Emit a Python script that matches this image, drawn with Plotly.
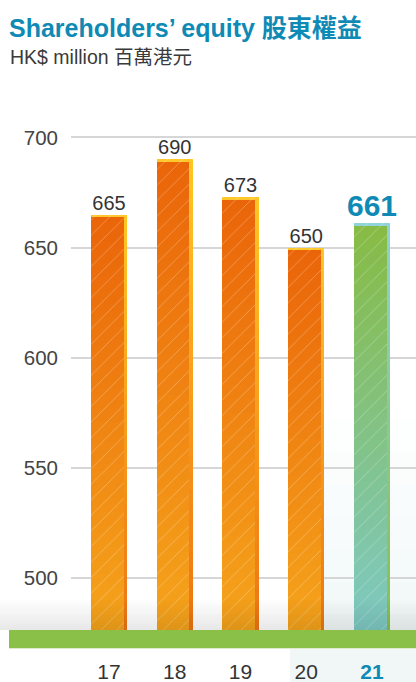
import plotly.graph_objects as go

# ---- data ----
years = ["17", "18", "19", "20", "21"]
equity = [665, 690, 673, 650, 661]
y_ticks = [500, 550, 600, 650, 700]
title_text = "Shareholders\u2019 equity 股東權益"
subtitle_text = "HK$ million 百萬港元"

# ---- style ----
W, H = 416, 682
ML, MR, MT, MB = 71, 0, 100, 52
BASE = 476.4
YMAX = 717.0
FONT = "Liberation Sans, Arial, Noto Sans CJK TC, sans-serif"
BLUE = "#0F8AB4"

main_top = ["#EA6409", "#EA6409", "#EA6409", "#EA6409", "#87BB43"]
main_bot = ["#F5A41B", "#F5A41B", "#F5A41B", "#F5A41B", "#7EC9C3"]
strip_top = ["#FFC623", "#FFC623", "#FFC623", "#FFC623", "#8DD3D4"]
strip_bot = ["#EE7414", "#EE7414", "#EE7414", "#EE7414", "#8ABF48"]
cap_col = ["#FFC72B", "#FFC72B", "#FFC72B", "#FFC72B", "#8FD4D8"]


def hex2rgb(h):
    h = h.lstrip("#")
    return [int(h[i:i + 2], 16) for i in (0, 2, 4)]


def lerp(c1, c2, t):
    a, b = hex2rgb(c1), hex2rgb(c2)
    r = [round(a[i] + (b[i] - a[i]) * t) for i in range(3)]
    return "rgb(%d,%d,%d)" % tuple(r)


fig = go.Figure()

BW = 0.548
OFF = -BW / 2
SW = 0.05

# main gradient bodies
N = 60
for i in range(N):
    t = i / N
    bases = [BASE + (v - BASE) * t for v in equity]
    hs = [(v - BASE) * (1 - t) for v in equity]
    cols = [lerp(main_bot[k], main_top[k], (i + 0.5) / N) for k in range(len(years))]
    fig.add_bar(x=years, y=hs, base=bases, width=BW - SW, offset=OFF,
                marker=dict(color=cols, line=dict(width=0)),
                hoverinfo="skip", showlegend=False)

# right-edge strips
M = 30
for i in range(M):
    t = i / M
    bases = [BASE + (v - BASE) * t for v in equity]
    hs = [(v - BASE) * (1 - t) for v in equity]
    cols = [lerp(strip_bot[k], strip_top[k], (i + 0.5) / M) for k in range(len(years))]
    fig.add_bar(x=years, y=hs, base=bases, width=SW, offset=OFF + BW - SW,
                marker=dict(color=cols, line=dict(width=0)),
                hoverinfo="skip", showlegend=False)

# top caps
CAP = 1.3
fig.add_bar(x=years, y=[CAP] * len(years), base=[v - CAP for v in equity],
            width=BW, offset=OFF, marker=dict(color=cap_col, line=dict(width=0)),
            hoverinfo="skip", showlegend=False)

# hatch overlay
fig.add_bar(x=years, y=[v - BASE for v in equity], base=[BASE] * len(years),
            width=BW - SW, offset=OFF,
            marker=dict(color="rgba(0,0,0,0)", line=dict(width=0),
                        pattern=dict(shape="/", fgcolor="white", fgopacity=0.3,
                                     bgcolor="rgba(0,0,0,0)", size=11, solidity=0.08)),
            hoverinfo="skip", showlegend=False)

# value labels
labels = [str(v) for v in equity[:-1]] + ["<b>%d</b>" % equity[-1]]
fig.add_scatter(x=years, y=equity, mode="text", text=labels,
                textposition="top center",
                textfont=dict(family=FONT, size=[20, 20, 20, 20, 30],
                              color=["#333333"] * 4 + [BLUE]),
                hoverinfo="skip", showlegend=False)


def px_x(px):
    return (px - ML) / (W - ML - MR)


def px_y(py):
    return (H - MB - py) / (H - MT - MB)


shapes = []
# faint panel behind latest year (fading in downward)
panel_steps = 8
for i in range(panel_steps):
    y0p = 420 + i * (260 / panel_steps)
    shapes.append(dict(type="rect", xref="paper", yref="paper", x0=px_x(290), x1=px_x(416),
                       y0=px_y(682), y1=px_y(y0p),
                       fillcolor="rgba(225,236,246,0.08)", line=dict(width=0), layer="below"))
# bottom fade
steps = 12
for i in range(steps):
    y_top = 600 + i * 30 / steps
    shapes.append(dict(type="rect", xref="paper", yref="paper", x0=px_x(0), x1=1,
                       y0=px_y(y_top + 30 / steps), y1=px_y(y_top),
                       fillcolor="rgba(0,0,0,%.3f)" % (0.009 * (i + 1) / steps * 10),
                       line=dict(width=0), layer="above"))
# green ground band
shapes.append(dict(type="rect", xref="paper", yref="paper", x0=px_x(9), x1=1,
                   y0=px_y(648), y1=px_y(630), fillcolor="#8ABF48", line=dict(width=0), layer="above"))
shapes.append(dict(type="line", xref="paper", yref="paper", x0=px_x(9), x1=1,
                   y0=px_y(648.5), y1=px_y(648.5), line=dict(color="#DDEBCB", width=1), layer="above"))

annotations = [
    dict(text="<b>" + title_text + "</b>", xref="paper", yref="paper", x=px_x(7), y=px_y(12),
         xanchor="left", yanchor="top", showarrow=False,
         font=dict(family=FONT, size=25, color=BLUE)),
    dict(text=subtitle_text, xref="paper", yref="paper", x=px_x(8), y=px_y(44),
         xanchor="left", yanchor="top", showarrow=False,
         font=dict(family=FONT, size=19.5, color="#3A3A3A")),
]

ticktext = years[:-1] + ["<b><span style='color:%s'>%s</span></b>" % (BLUE, years[-1])]

fig.update_layout(
    width=W, height=H,
    margin=dict(l=ML, r=MR, t=MT, b=MB, pad=0),
    paper_bgcolor="white", plot_bgcolor="rgba(0,0,0,0)",
    barmode="overlay", bargap=0,
    shapes=shapes, annotations=annotations,
    font=dict(family=FONT),
    xaxis=dict(type="category", range=[-0.578, 4.669], showgrid=False, zeroline=False,
               showline=False, ticks="", tickvals=years, ticktext=ticktext,
               tickfont=dict(family=FONT, size=21, color="#333333"),
               ticklabelstandoff=27, fixedrange=True),
    yaxis=dict(range=[BASE, YMAX], tickvals=y_ticks, showgrid=True, gridcolor="#D6D6D6",
               gridwidth=1.5, zeroline=False, showline=False, ticks="",
               tickfont=dict(family=FONT, size=20.5, color="#444444"),
               ticklabelstandoff=12, fixedrange=True),
)

fig.write_html("out.html")
